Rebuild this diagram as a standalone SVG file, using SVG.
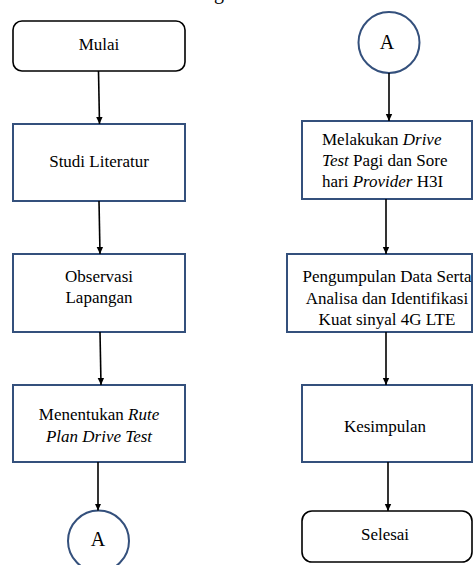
<svg xmlns="http://www.w3.org/2000/svg" width="473" height="565" viewBox="0 0 473 565">
<defs>
<marker id="ah" markerWidth="8" markerHeight="8" refX="7" refY="4" orient="auto" markerUnits="userSpaceOnUse">
<path d="M0,0.8 L7,4 L0,7.2 z" fill="#000"/>
</marker>
<style>
.box{fill:#fff;stroke:#34507c;stroke-width:2}
.term{fill:#fff;stroke:#000;stroke-width:1.6}
text{font-family:'Liberation Serif','Times New Roman','DejaVu Serif',serif;font-size:17px;fill:#000}
.c{text-anchor:middle}
.i{font-style:italic}
.big{font-size:20px}
.conn line{stroke:#000;stroke-width:1.6;marker-end:url(#ah)}
</style>
</defs>
<rect width="473" height="565" fill="#fff"/>
<text class="c big" x="219" y="-1">g</text>

<g id="mulai"><rect class="term" x="13" y="21" width="172" height="50" rx="9"/><text class="c" x="99" y="50">Mulai</text></g>
<g id="studi"><rect class="box" x="13" y="124" width="172" height="77"/><text class="c" x="99" y="167">Studi Literatur</text></g>
<g id="observasi"><rect class="box" x="13" y="254" width="172" height="78"/><text class="c" x="99" y="282">Observasi</text><text class="c" x="99" y="303">Lapangan</text></g>
<g id="menentukan"><rect class="box" x="13" y="385" width="172" height="77"/><text class="c" x="99" y="420">Menentukan <tspan class="i">Rute</tspan></text><text class="c i" x="99" y="442">Plan Drive Test</text></g>
<g id="connA1"><circle cx="98.5" cy="541" r="30.5" class="box"/><text class="c big" x="98" y="546">A</text></g>

<g id="connA2"><circle cx="389" cy="42.5" r="30.5" class="box"/><text class="c big" x="387" y="49">A</text></g>
<g id="drivetest"><rect class="box" x="302" y="121" width="170" height="78"/><text x="322" y="145">Melakukan <tspan class="i">Drive</tspan></text><text x="322" y="166"><tspan class="i">Test</tspan> Pagi dan Sore</text><text x="322" y="187">hari <tspan class="i">Provider</tspan> H3I</text></g>
<g id="pengumpulan"><rect class="box" x="287" y="254" width="185" height="78"/><text class="c" x="387" y="282">Pengumpulan Data Serta</text><text class="c" x="387" y="303.5">Analisa dan Identifikasi</text><text class="c" x="387" y="325">Kuat sinyal 4G LTE</text></g>
<g id="kesimpulan"><rect class="box" x="302" y="385" width="170" height="77"/><text class="c" x="385" y="432">Kesimpulan</text></g>
<g id="selesai"><rect class="term" x="302" y="511" width="170" height="51" rx="10"/><text class="c" x="385" y="540">Selesai</text></g>

<g class="conn">
<line x1="98.5" y1="71" x2="99.5" y2="124"/>
<line x1="99" y1="201" x2="100" y2="254"/>
<line x1="100" y1="332" x2="101" y2="385"/>
<line x1="98" y1="462" x2="98" y2="510.5"/>
<line x1="389" y1="73" x2="389" y2="121"/>
<line x1="386" y1="199" x2="386" y2="254"/>
<line x1="386" y1="332" x2="386" y2="385"/>
<line x1="388" y1="462" x2="388" y2="511"/>
</g>
</svg>
